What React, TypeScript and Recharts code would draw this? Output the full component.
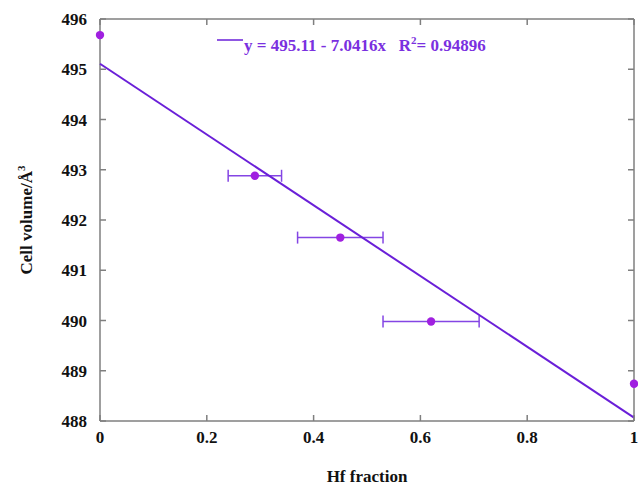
import React from 'react';
import { ComposedChart, Scatter, XAxis, YAxis, ErrorBar, Legend, Label } from 'recharts';

const hfFraction = [0, 0.29, 0.45, 0.62, 1];
const cellVolume = [495.68, 492.88, 491.65, 489.98, 488.74];
const hfError = [0, 0.05, 0.08, 0.09, 0];
const xTicks = [0, 0.2, 0.4, 0.6, 0.8, 1];
const yTicks = [488, 489, 490, 491, 492, 493, 494, 495, 496];
const fitIntercept = 495.11;
const fitSlope = -7.0416;
const fitR2 = 0.94896;

const points = hfFraction.map((x, i) => ({ x, y: cellVolume[i], err: hfError[i] }));
const fitLine = [0, 1].map((x) => ({ x, y: fitIntercept + fitSlope * x }));

const FONT = '"Liberation Serif", "Times New Roman", serif';
const AXIS = '#7f7f7f';
const LINE = '#6a1fd8';
const DOT = '#a020e0';
const ERR = '#8445e4';
const TEXT = '#7a30e0';

const BottomTick = (p: any) => (
  <g>
    <line x1={p.x} y1={p.y} x2={p.x} y2={p.y - 6} stroke={AXIS} strokeWidth={1.5} />
    <text x={p.x} y={p.y + 22} textAnchor="middle" fontFamily={FONT} fontWeight="bold" fontSize={17} fill="#111">
      {p.payload.value}
    </text>
  </g>
);
const TopTick = (p: any) => (
  <line x1={p.x} y1={p.y} x2={p.x} y2={p.y + 6} stroke={AXIS} strokeWidth={1.5} />
);
const LeftTick = (p: any) => (
  <g>
    <line x1={p.x} y1={p.y} x2={p.x + 6} y2={p.y} stroke={AXIS} strokeWidth={1.5} />
    <text x={p.x - 13} y={p.y + 6} textAnchor="end" fontFamily={FONT} fontWeight="bold" fontSize={17} fill="#111">
      {p.payload.value}
    </text>
  </g>
);
const RightTick = (p: any) => (
  <line x1={p.x} y1={p.y} x2={p.x - 6} y2={p.y} stroke={AXIS} strokeWidth={1.5} />
);

const Dot = (p: any) => <circle cx={p.cx} cy={p.cy} r={4.2} fill={DOT} />;

const LegendContent = () => (
  <div style={{ display: 'flex', alignItems: 'flex-start', fontFamily: FONT, fontWeight: 'bold', fontSize: 17, color: TEXT, whiteSpace: 'nowrap', lineHeight: '20px' }}>
    <svg width={27} height={20} style={{ display: 'block' }}>
      <line x1={0} y1={10} x2={26} y2={10} stroke={LINE} strokeWidth={1.5} />
    </svg>
    <span style={{ marginTop: 6 }}>
      y = {fitIntercept} - {Math.abs(fitSlope)}x&nbsp;&nbsp;&nbsp;R<sup style={{ fontSize: 11, lineHeight: 0 }}>2</sup>= {fitR2}
    </span>
  </div>
);

export default function App() {
  return (
    <div style={{ position: 'absolute', left: 0, top: 0, width: 638, height: 487, background: '#fff' }}>
      <ComposedChart width={638} height={487} margin={{ top: 18, right: 3, bottom: 0, left: 0 }}>
        <XAxis
          dataKey="x"
          type="number"
          domain={[0, 1]}
          ticks={xTicks}
          height={66}
          tickSize={0}
          tickMargin={0}
          tickLine={false}
          axisLine={{ stroke: AXIS, strokeWidth: 1.5 }}
          tick={<BottomTick />}
          interval={0}
        >
          <Label
            content={() => (
              <text x={367} y={482} textAnchor="middle" fontFamily={FONT} fontWeight="bold" fontSize={17} fill="#111">
                Hf fraction
              </text>
            )}
          />
        </XAxis>
        <XAxis
          xAxisId="top"
          orientation="top"
          dataKey="x"
          type="number"
          domain={[0, 1]}
          ticks={xTicks}
          height={1}
          tickSize={0}
          tickMargin={0}
          tickLine={false}
          axisLine={{ stroke: AXIS, strokeWidth: 1.5 }}
          tick={<TopTick />}
          interval={0}
        />
        <YAxis
          dataKey="y"
          type="number"
          domain={[488, 496]}
          ticks={yTicks}
          width={100}
          tickSize={0}
          tickMargin={0}
          tickLine={false}
          axisLine={{ stroke: AXIS, strokeWidth: 1.5 }}
          tick={<LeftTick />}
          interval={0}
        >
          <Label
            content={() => (
              <text transform="translate(32,220) rotate(-90)" textAnchor="middle" fontFamily={FONT} fontWeight="bold" fontSize={17} fill="#111">
                Cell volume/Å
                <tspan dy={-7} fontSize={11}>3</tspan>
              </text>
            )}
          />
        </YAxis>
        <YAxis
          yAxisId="right"
          orientation="right"
          dataKey="y"
          type="number"
          domain={[488, 496]}
          ticks={yTicks}
          width={1}
          tickSize={0}
          tickMargin={0}
          tickLine={false}
          axisLine={{ stroke: AXIS, strokeWidth: 1.5 }}
          tick={<RightTick />}
          interval={0}
        />
        <Legend
          layout="vertical"
          align="center"
          verticalAlign="middle"
          content={<LegendContent />}
          wrapperStyle={{ position: 'absolute', top: 30, left: 217, width: 'auto', height: 'auto' }}
        />
        <Scatter
          data={fitLine}
          dataKey="y"
          xAxisId="top"
          yAxisId="right"
          line={{ stroke: LINE, strokeWidth: 2 }}
          shape={() => <g />}
          isAnimationActive={false}
        />
        <Scatter data={points} dataKey="y" shape={<Dot />} isAnimationActive={false}>
          <ErrorBar dataKey="err" direction="x" width={6} stroke={ERR} strokeWidth={1.5} />
        </Scatter>
      </ComposedChart>
    </div>
  );
}
